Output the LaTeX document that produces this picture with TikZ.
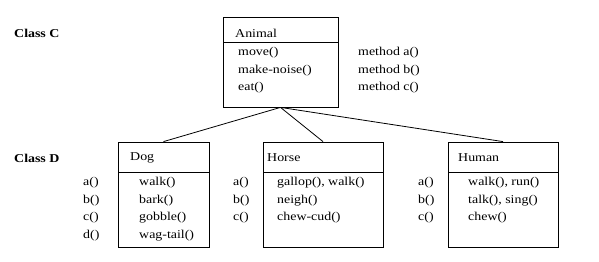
\documentclass[tikz,border=0pt]{standalone}
\usepackage{fontspec}
\setmainfont[FakeStretch=1.16]{Liberation Serif}
\begin{document}
\begin{tikzpicture}[x=1pt,y=-1pt,
  box/.style={draw,line width=0.8pt,inner sep=0pt},
  txt/.style={anchor=west,inner sep=0pt,font=\fontsize{12}{14}\selectfont},
  lbl/.style={anchor=west,inner sep=0pt,font=\fontsize{12}{14}\selectfont\bfseries},
  link/.style={line width=0.8pt}]
\useasboundingbox (0,0) rectangle (599,262);
% Animal
\node[box,minimum width=115pt,minimum height=90pt] (animal) at (280.5,62) {};
\draw[line width=0.8pt] (223,42) -- (338,42);
\node[txt] (an) at (235,33) {Animal};
\node[txt] (am1) at (238,53) {move()};
\node[txt] (am2) at (238,71) {make-noise()};
\node[txt] (am3) at (238,88) {eat()};
\node[txt] (ma) at (358,53) {method a()};
\node[txt] (mb) at (358,71) {method b()};
\node[txt] (mc) at (358,88) {method c()};
\node[lbl] (cc) at (14,33) {Class C};
\node[lbl] (cd) at (14,158) {Class D};
% Dog
\node[box,minimum width=91pt,minimum height=105pt] (dog) at (163.5,194.5) {};
\draw[line width=0.8pt] (118,172) -- (209,172);
\node[txt] (dn) at (130,158) {Dog};
\node[txt] (d1) at (139,183) {walk()};
\node[txt] (d2) at (139,201) {bark()};
\node[txt] (d3) at (139,218) {gobble()};
\node[txt] (d4) at (139,236) {wag-tail()};
\node[txt] (da) at (83,183) {a()};
\node[txt] (db) at (83,201) {b()};
\node[txt] (dc) at (83,218) {c()};
\node[txt] (dd) at (83,236) {d()};
% Horse
\node[box,minimum width=120pt,minimum height=105pt] (horse) at (323,194.5) {};
\draw[line width=0.8pt] (263,172) -- (383,172);
\node[txt] (hn) at (267,158) {Horse};
\node[txt] (h1) at (277,183) {gallop(), walk()};
\node[txt] (h2) at (277,201) {neigh()};
\node[txt] (h3) at (277,218) {chew-cud()};
\node[txt] (ha) at (233,183) {a()};
\node[txt] (hb) at (233,201) {b()};
\node[txt] (hc) at (233,218) {c()};
% Human
\node[box,minimum width=110pt,minimum height=105pt] (human) at (503,194.5) {};
\draw[line width=0.8pt] (448,172) -- (558,172);
\node[txt] (un) at (458,158) {Human};
\node[txt] (u1) at (468,183) {walk(), run()};
\node[txt] (u2) at (468,201) {talk(), sing()};
\node[txt] (u3) at (468,218) {chew()};
\node[txt] (ua) at (418,183) {a()};
\node[txt] (ub) at (418,201) {b()};
\node[txt] (uc) at (418,218) {c()};
% links
\draw[link] (animal.south) -- (dog.north);
\draw[link] (animal.south) -- (horse.north);
\draw[link] (animal.south) -- (human.north);
\end{tikzpicture}
\end{document}
